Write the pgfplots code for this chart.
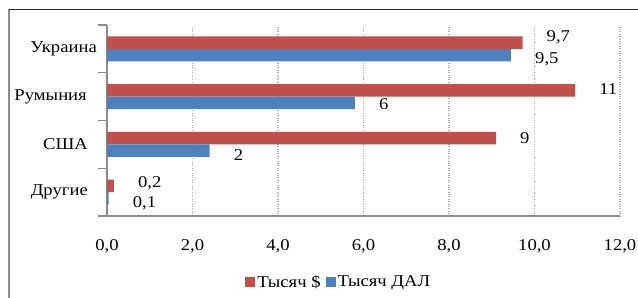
\documentclass[border=0pt]{standalone}
\usepackage{pgfplots}
\usepackage{pgfplotstable}
\usepackage{fontspec}
\setmainfont[FakeStretch=1.13]{Liberation Serif}
\pgfplotsset{compat=1.18}
\definecolor{cred}{HTML}{C0504D}
\definecolor{cblue}{HTML}{4F81BD}
\definecolor{cgray}{HTML}{8C8C8C}
\pgfplotstableread{
y x lab dy
3 9.72 9,7 5
2 10.95 11 1
1 9.1 9 0
0 0.16 0,2 3
}\redtab
\pgfplotstableread{
y x lab dy
3 9.45 9,5 -4.5
2 5.8 6 -1
1 2.4 2 -4
0 0.04 0,1 -5
}\bluetab
\begin{document}
\begin{tikzpicture}[font=\fontsize{16.5bp}{19bp}\selectfont]
\path[use as bounding box] (0,0) rectangle (638bp,-298bp);
\draw[cgray, line width=1.2bp] (9bp,-298bp) -- (9bp,-9bp);
\draw[black!85, line width=1bp] (9bp,-9bp) -- (638bp,-9bp);
\begin{axis}[
  at={(107bp,-216bp)}, anchor=south west,
  scale only axis, width=513bp, height=191bp,
  xmin=0, xmax=12, ymin=-0.5, ymax=3.5,
  xtick={0,2,...,12},
  ytick={0,1,2,3},
  yticklabels={Другие\hspace*{9bp},США\hspace*{9bp},Румыния\hspace*{10bp},Украина},
  extra y ticks={-0.5,0.5,1.5,2.5,3.5},
  extra y tick labels={},
  extra y tick style={major tick length=9bp, tick align=outside, tick style={cgray, line width=1.2bp}, grid=none},
  major tick length=0pt,
  axis lines*=left,
  axis line style={cgray, line width=1.8bp},
  xmajorgrids,
  grid style={gray!60, dotted, line width=1.2bp},
  /pgf/number format/.cd, fixed, fixed zerofill, precision=1, use comma, assume math mode=true,
  /pgfplots/.cd,
  xticklabel style={anchor=north, inner sep=0pt, yshift=-23bp},
  yticklabel style={anchor=east, inner sep=0pt, xshift=-10bp},
  xbar, bar width=12.5bp,
  point meta=explicit symbolic,
  nodes near coords,
  visualization depends on={\thisrow{dy} \as \dy},
  nodes near coords style={anchor=west, inner sep=0pt, xshift=24bp, yshift=\dy bp},
  legend style={at={(0.452,-0.3455)}, anchor=center, draw=none, legend columns=2, inner sep=0pt,
    /tikz/every even column/.append style={column sep=3bp}},
  legend image code/.code={\fill[#1, draw=none] (0bp,-5bp) rectangle (10bp,5bp);},
]
\addplot[fill=cred, draw=none, bar shift=6.25bp] table[x=x, y=y, meta=lab] {\redtab};
\addplot[fill=cblue, draw=none, bar shift=-6.25bp] table[x=x, y=y, meta=lab] {\bluetab};
\legend{Тысяч \$, Тысяч ДАЛ}
\end{axis}
\end{tikzpicture}
\end{document}
